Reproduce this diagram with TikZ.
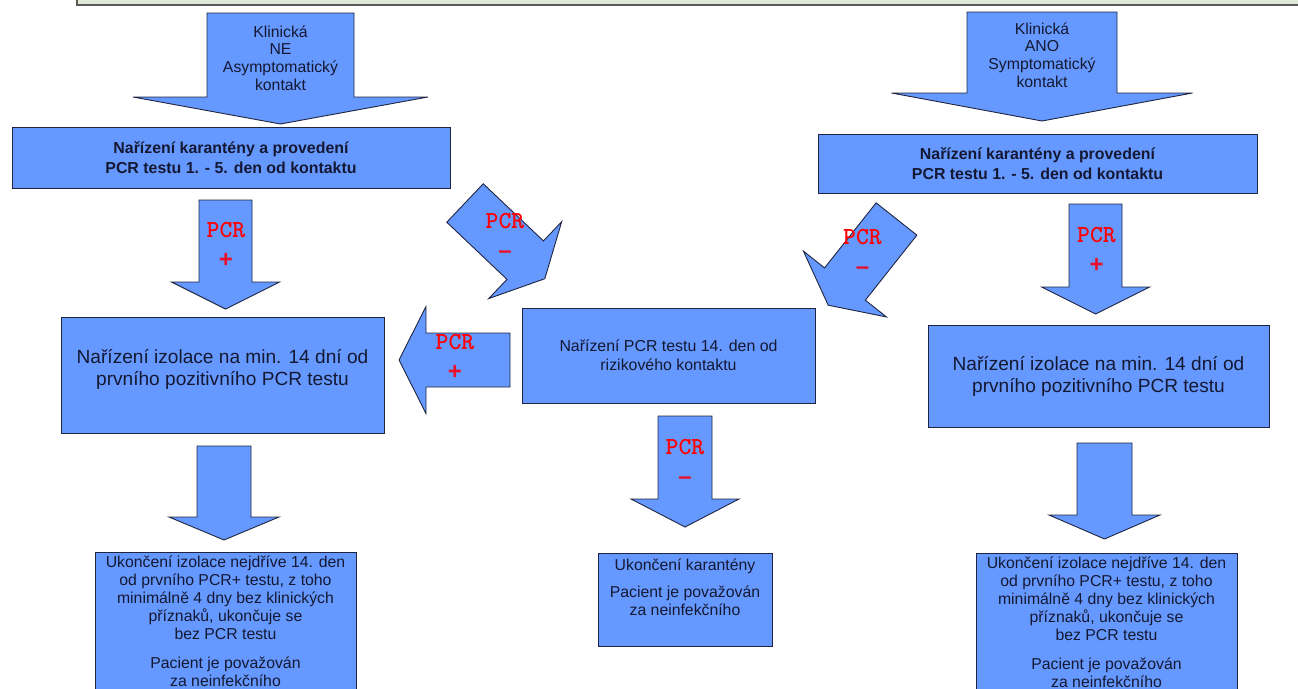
\documentclass[tikz,border=0pt]{standalone}
\usepackage{fontspec}
\setmainfont{Liberation Sans}

\definecolor{boxblue}{HTML}{6699FF}
\definecolor{boxline}{HTML}{1F2540}
\definecolor{bandfill}{HTML}{E0E9D5}
\definecolor{bandline}{HTML}{5A5A5A}
\definecolor{txtdark}{HTML}{141833}
\definecolor{signred}{HTML}{E8102A}

% block arrow: tail centre, direction, shaft length, half shaft, half head, head length
\newcommand{\blockarrow}[6]{%
  \draw[arrowbody,shift={(#1)},rotate=#2] (0,-#4) -- (#3,-#4) -- (#3,-#5) -- (#3+#6,0)
    -- (#3,#5) -- (#3,#4) -- (0,#4) -- cycle;}
% red sign under PCR
\newcommand{\pcrsign}[1]{{\color{signred}\rmfamily\bfseries\fontsize{24}{30}\selectfont #1}}

\begin{document}
\begin{tikzpicture}[x=1pt,y=-1pt,
	box/.style={draw=boxline,fill=boxblue,line width=1pt,inner sep=0pt,text=txtdark,align=center},
	arrowbody/.style={draw=boxline,fill=boxblue,line width=0.9pt},
	headtext/.style={text=txtdark,align=center,inner sep=0pt,font=\fontsize{15.8}{17.7}\selectfont},
	boldtext/.style={font=\bfseries\fontsize{15.9}{20}\selectfont},
	bigtext/.style={text=txtdark,align=center,inner sep=0pt,font=\fontsize{19.1}{22}\selectfont},
	smalltext/.style={text=txtdark,align=center,inner sep=0pt,font=\fontsize{15.8}{18}\selectfont},
	pcr/.style={text=red,align=center,inner sep=0pt,font=\ttfamily\bfseries\fontsize{24.5}{30}\selectfont}]
	\clip (0,0) rectangle (1298,688);

	% draw green band at the top
	\draw[fill=bandfill,draw=bandline,line width=2pt] (77,-20) rectangle (1320,5);

	% draw the two entry arrows
	\blockarrow{280.5,13}{-90}{84}{73.5}{147.5}{27}
	\node[headtext] (entryL) at (280.5,58) {Klinická\\NE\\Asymptomatický\\kontakt};
	\blockarrow{1042,12}{-90}{81}{75}{150.5}{28}
	\node[headtext] (entryR) at (1042,55) {Klinická\\ANO\\Symptomatický\\kontakt};

	% draw quarantine boxes
	\node[box,boldtext,minimum width=438pt,minimum height=61pt] (karL) at (231,157.5)
		{Nařízení karantény a provedení\\PCR testu 1. - 5. den od kontaktu};
	\node[box,boldtext,minimum width=439pt,minimum height=59pt] (karR) at (1037.5,163.5)
		{Nařízení karantény a provedení\\PCR testu 1. - 5. den od kontaktu};

	% draw PCR arrows below quarantine boxes
	\blockarrow{225.5,200}{-90}{82}{26.5}{54}{27}
	\node[pcr] (pcrL) at (226,245) {PCR\\\pcrsign{+}};
	\blockarrow{1095.5,204}{-90}{83}{26.5}{54}{27}
	\node[pcr] (pcrR) at (1096.5,249.5) {PCR\\\pcrsign{+}};
	\blockarrow{465,203}{-43.5}{83}{26.5}{53}{27}
	\node[pcr] (pcrDL) at (505,235.5) {PCR\\\pcrsign{–}};
	\blockarrow{896.5,219}{-128.4}{83}{26}{53}{27}
	\node[pcr] (pcrDR) at (862.5,252) {PCR\\\pcrsign{–}};

	% draw isolation boxes
	\node[box,minimum width=323pt,minimum height=116pt] (izolL) at (222.5,375) {};
	\node[bigtext] (izolLtext) at ([yshift=6pt]izolL.center)
		{Nařízení izolace na min. 14 dní od\\prvního pozitivního PCR testu};
	\node[box,bigtext,minimum width=341pt,minimum height=102pt] (izolR) at (1098.5,376)
		{Nařízení izolace na min. 14 dní od\\prvního pozitivního PCR testu};

	% draw test on day 14
	\node[box,smalltext,font=\fontsize{15.9}{19}\selectfont,minimum width=293pt,minimum height=95pt] (pcr14) at (668.5,355.5)
		{Nařízení PCR testu 14. den od\\rizikového kontaktu};
	\blockarrow{510,360}{180}{84}{27}{53.5}{27}
	\node[pcr] (pcrLeft) at (455,357) {PCR\\\pcrsign{+}};
	\blockarrow{685,416}{-90}{83}{27}{54}{28}
	\node[pcr] (pcrC) at (685,462) {PCR\\\pcrsign{–}};

	% draw end boxes
	\blockarrow{224,446}{-90}{71}{27}{55}{23}
	\blockarrow{1104.5,443}{-90}{72}{27.5}{55.5}{24}
	\node[box,anchor=north,minimum width=261pt,minimum height=160pt] (konL) at (225.5,552) {};
	\node[smalltext,anchor=north] (konLtext) at ([yshift=-4pt]konL.north)
		{Ukončení izolace nejdříve 14. den\\od prvního PCR+ testu, z toho\\minimálně 4 dny bez klinických\\příznaků, ukončuje se\\bez PCR testu\\[11pt]Pacient je považován\\za neinfekčního};
	\node[box,minimum width=174pt,minimum height=93pt] (konC) at (685,599.5) {};
	\node[smalltext,anchor=north] (konCtext) at ([yshift=-6pt]konC.north)
		{Ukončení karantény\\[9pt]Pacient je považován\\za neinfekčního};
	\node[box,anchor=north,minimum width=261pt,minimum height=160pt] (konR) at (1106.5,553) {};
	\node[smalltext,anchor=north] (konRtext) at ([yshift=-4pt]konR.north)
		{Ukončení izolace nejdříve 14. den\\od prvního PCR+ testu, z toho\\minimálně 4 dny bez klinických\\příznaků, ukončuje se\\bez PCR testu\\[11pt]Pacient je považován\\za neinfekčního};
\end{tikzpicture}
\end{document}
